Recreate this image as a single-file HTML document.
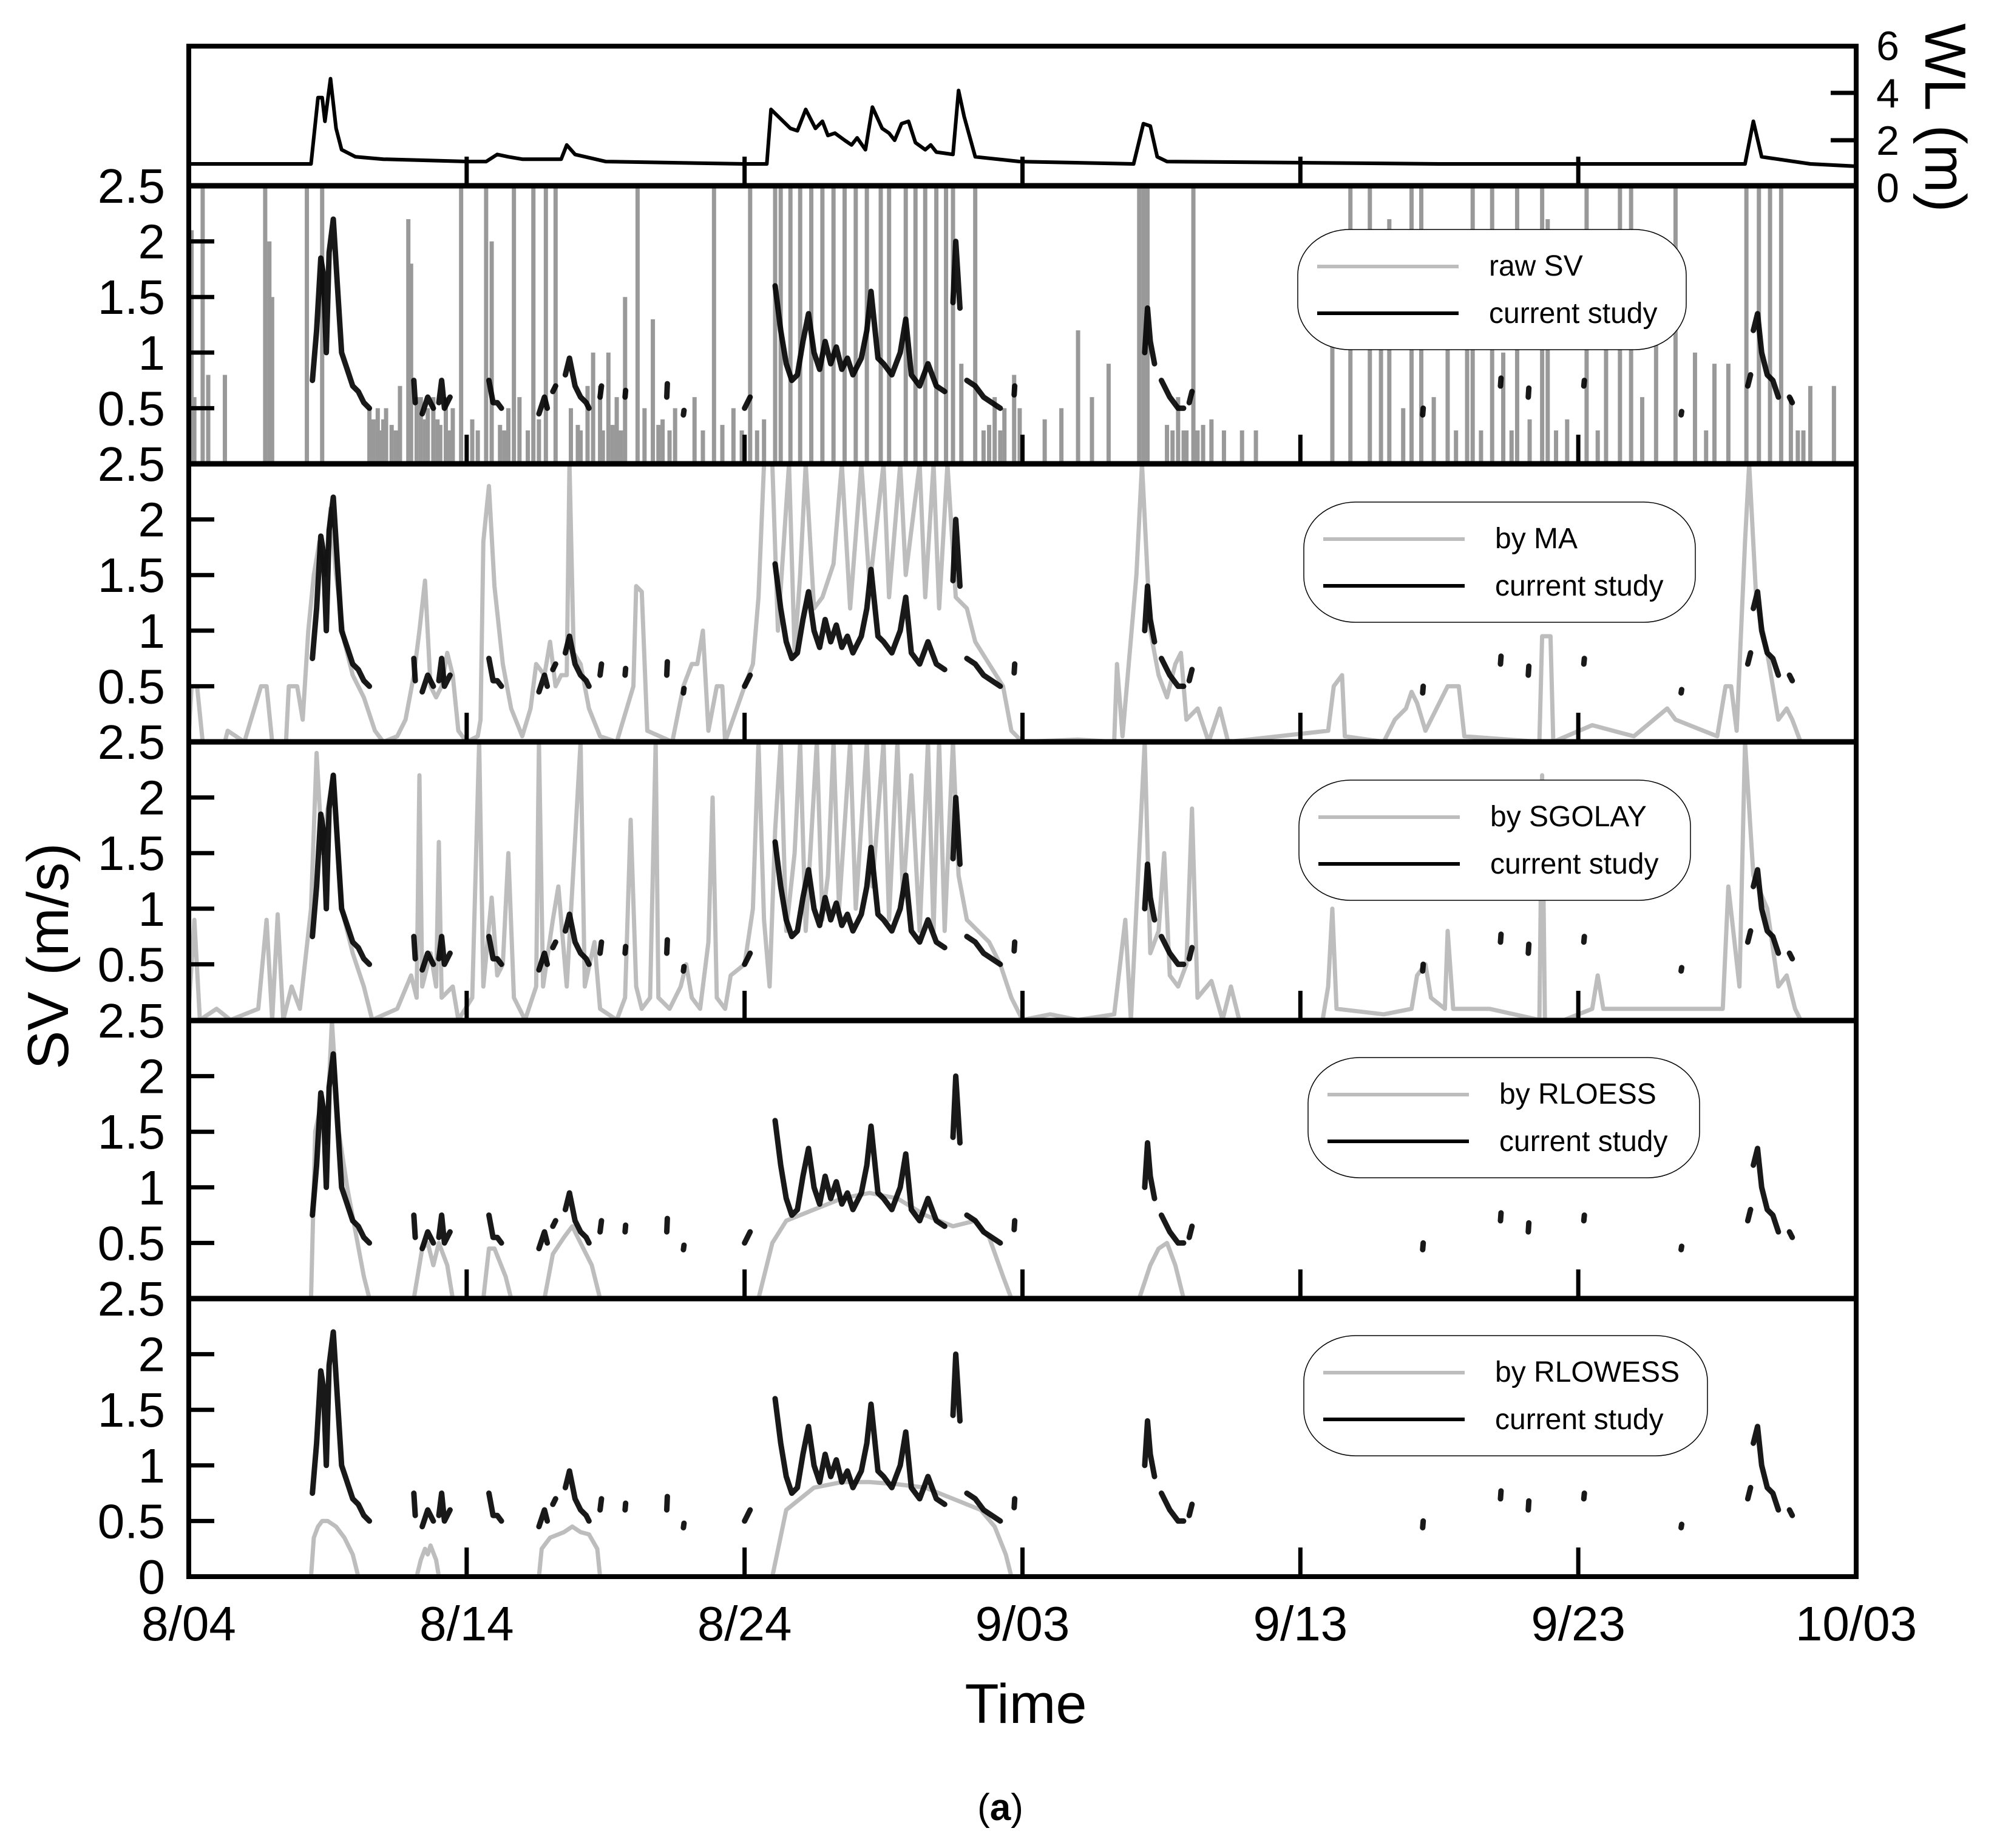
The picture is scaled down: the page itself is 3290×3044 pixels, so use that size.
<!DOCTYPE html>
<html><head><meta charset="utf-8"><style>
html,body{margin:0;padding:0;background:#fff}
svg{display:block}
text{font-family:"Liberation Sans",sans-serif;fill:#000}
</style></head><body>
<svg id="chart" width="3290" height="3044" viewBox="0 0 3290 3044" xmlns="http://www.w3.org/2000/svg">
<g id="layer"></g>
</svg>
<script>
const NS="http://www.w3.org/2000/svg";
// ---- data ----
const xTickLabels=["8/04","8/14","8/24","9/03","9/13","9/23","10/03"];
const xTickDays=[0,10,20,30,40,50,60];
const svTickValues=[0.5,1,1.5,2];
const wlTickValues=[0,2,4,6];
const panelNames=["raw SV","by MA","by SGOLAY","by RLOESS","by RLOWESS"];
const wlDays=[0,4.4,4.65,4.8,4.9,5.1,5.3,5.5,6,7,10,10.7,11.1,11.5,12,13.4,13.6,13.9,15,20,20.8,20.95,21.65,21.9,22.2,22.55,22.8,23.0,23.25,23.6,23.85,24.05,24.35,24.6,24.95,25.2,25.4,25.65,25.9,26.15,26.5,26.7,26.9,27.5,27.7,27.9,28.3,29.9,34.0,34.35,34.6,34.85,35.2,45,56.0,56.3,56.6,58.35,60];
const wlVals=[1.0,1.0,3.8,3.8,2.8,4.6,2.5,1.6,1.3,1.2,1.1,1.1,1.4,1.3,1.2,1.2,1.8,1.4,1.1,1.0,1.0,3.3,2.5,2.4,3.3,2.5,2.8,2.2,2.3,2.0,1.8,2.1,1.6,3.4,2.5,2.3,2.0,2.7,2.8,1.9,1.6,1.8,1.5,1.4,4.1,3.0,1.3,1.1,1.0,2.7,2.6,1.3,1.1,1.0,1.0,2.8,1.3,1.0,0.9];
const csDays=[4.45,4.6,4.75,4.85,4.95,5.05,5.2,5.35,5.5,5.7,5.9,6.1,6.3,6.5,NaN,8.1,8.15,NaN,8.4,8.6,8.8,NaN,9.0,9.1,9.2,9.4,NaN,10.8,10.95,11.1,11.25,NaN,12.6,12.8,12.9,NaN,13.1,13.2,NaN,13.55,13.7,13.9,14.1,14.3,14.4,NaN,14.8,14.85,NaN,15.7,15.72,NaN,17.2,17.22,NaN,17.8,17.82,NaN,20.0,20.2,NaN,21.1,21.3,21.5,21.7,21.9,22.1,22.3,22.5,22.7,22.9,23.1,23.3,23.5,23.7,23.9,24.2,24.4,24.55,24.8,25.0,25.3,25.6,25.8,26.0,26.3,26.6,26.9,27.2,NaN,27.5,27.6,27.75,NaN,28.0,28.3,28.6,28.9,29.2,NaN,29.7,29.72,NaN,34.4,34.5,34.6,34.75,NaN,35.0,35.3,35.6,35.8,NaN,36.0,36.1,NaN,44.4,44.42,NaN,47.2,47.22,NaN,48.2,48.22,NaN,50.2,50.22,NaN,53.7,53.72,NaN,56.1,56.2,NaN,56.3,56.45,56.6,56.8,57.0,57.2,NaN,57.6,57.7];
const csVals=[0.75,1.2,1.85,1.7,1.0,1.9,2.2,1.6,1.0,0.85,0.7,0.65,0.55,0.5,NaN,0.75,0.55,NaN,0.45,0.6,0.5,NaN,0.55,0.75,0.5,0.6,NaN,0.75,0.55,0.55,0.5,NaN,0.45,0.6,0.5,NaN,0.65,0.7,NaN,0.8,0.95,0.7,0.6,0.55,0.5,NaN,0.6,0.7,NaN,0.6,0.66,NaN,0.6,0.72,NaN,0.44,0.48,NaN,0.5,0.6,NaN,1.6,1.2,0.9,0.75,0.8,1.1,1.35,1.0,0.85,1.1,0.9,1.05,0.85,0.95,0.8,0.95,1.2,1.55,0.95,0.9,0.8,1.0,1.3,0.8,0.7,0.9,0.7,0.65,NaN,1.45,2.0,1.4,NaN,0.75,0.7,0.6,0.55,0.5,NaN,0.62,0.7,NaN,1.0,1.4,1.1,0.9,NaN,0.75,0.6,0.5,0.5,NaN,0.55,0.65,NaN,0.44,0.5,NaN,0.7,0.77,NaN,0.6,0.68,NaN,0.7,0.75,NaN,0.44,0.47,NaN,0.7,0.8,NaN,1.2,1.35,1.0,0.8,0.75,0.6,NaN,0.6,0.55];
const rawDays=[0.1,0.2,0.5,0.7,1.3,2.75,2.9,3.0,4.25,4.8,6.5,6.65,6.8,7.0,7.1,7.6,7.9,8.0,8.2,8.35,8.6,8.8,8.95,9.25,9.5,9.8,10.7,10.9,11.5,11.7,11.9,12.4,12.6,12.85,13.2,13.75,14.35,14.55,14.8,15.1,15.4,15.7,16.15,16.4,16.7,17.05,17.5,18.2,18.9,19.6,20.2,20.7,21.1,21.3,21.65,22.0,22.4,22.8,23.2,23.6,24.0,24.4,24.9,25.2,25.8,26.15,26.5,26.9,27.25,27.5,27.8,28.3,29.0,29.35,29.7,29.9,30.8,31.4,32.0,32.5,33.1,34.2,34.35,34.5,35.4,35.6,36.15,36.8,37.25,37.9,38.4,41.15,41.8,42.5,42.9,43.2,43.7,44.0,44.35,44.8,45.3,46.0,46.2,46.9,47.3,47.8,48.25,48.7,48.9,49.6,50.3,51.0,51.5,51.9,52.3,52.8,53.5,54.2,54.9,55.4,56.05,56.5,56.9,57.3,57.65,58.35,59.2,6.9,7.3,7.45,8.5,9.05,9.35,10.2,10.4,11.2,11.35,12.2,14.0,14.1,14.9,15.25,15.55,16.9,17.3,18.5,19.2,19.9,20.45,28.6,28.8,29.2,35.2,35.8,35.9,36.3,36.5,45.6,46.5,47.6,49.2,50.7,54.6,57.9,58.1];
const rawVals=[2.1,0.6,2.5,0.8,0.8,2.5,2.0,1.5,2.5,2.5,0.5,0.4,0.5,0.4,0.5,0.7,2.2,1.8,0.6,0.6,0.5,0.6,0.4,0.6,0.5,2.5,2.5,2.0,0.5,2.5,0.6,2.5,0.4,2.5,2.5,0.5,0.7,1.0,0.7,1.0,0.6,1.5,2.5,0.5,1.3,0.4,0.5,0.6,2.5,0.5,2.5,0.4,2.5,2.5,2.5,2.5,2.5,2.5,2.5,2.5,2.5,2.5,2.5,2.5,2.5,2.5,2.5,2.5,2.5,2.5,0.9,2.5,0.6,0.5,0.8,0.5,0.4,0.5,1.2,0.6,0.9,2.5,2.5,2.5,0.3,0.6,2.5,0.4,0.3,0.3,0.3,1.6,2.5,2.5,2.0,2.2,0.5,2.5,2.5,0.6,1.7,1.5,2.5,2.5,1.0,2.5,0.4,2.5,2.2,0.4,2.5,1.8,2.5,2.5,0.6,1.5,2.5,1.0,0.9,0.9,2.5,2.5,2.5,2.5,0.6,0.7,0.7,0.3,0.35,0.3,0.4,0.35,0.3,0.4,0.3,0.35,0.3,0.3,0.35,0.3,0.3,0.35,0.3,0.35,0.3,0.3,0.35,0.3,0.3,0.3,0.35,0.3,0.35,0.3,0.3,0.3,0.35,0.3,0.3,0.3,0.3,0.3,0.3,0.3,0.3];
const maDays=[0,0.1,0.3,0.5,1.3,1.4,2.0,2.6,2.8,3.0,3.5,3.6,3.9,4.1,4.3,4.5,4.7,4.9,5.1,5.3,5.6,5.9,6.3,6.7,7.0,7.5,7.8,8.1,8.3,8.5,8.7,8.9,9.1,9.3,9.5,9.7,10.0,10.4,10.5,10.6,10.8,11.0,11.3,11.6,12.0,12.3,12.5,12.8,13.0,13.2,13.4,13.6,13.7,13.85,14.1,14.4,14.8,15.4,16.0,16.1,16.3,16.5,17.4,17.8,18.1,18.3,18.5,18.7,19.0,19.2,19.3,20.0,20.3,20.5,20.7,21.0,21.2,21.6,21.8,22.0,22.2,22.5,22.8,23.2,23.5,23.8,24.2,24.5,25.0,25.2,25.6,25.8,26.3,26.5,26.8,27.0,27.3,27.6,28.0,28.3,28.8,29.3,29.6,30,32,33.3,33.4,33.6,34.1,34.3,34.6,34.9,35.2,35.5,35.7,35.9,36.3,36.7,37.1,37.4,41.0,41.2,41.5,41.6,43.0,43.4,43.8,44.0,44.2,44.5,45.3,45.7,45.9,48.6,48.7,49.0,49.1,50.5,52,53.2,53.5,55.0,55.3,55.5,55.7,56.0,56.15,56.4,56.8,57.2,57.5,57.7,58,60];
const maVals=[0.05,0.5,0.5,0,0,0.1,0,0.5,0.5,0,0,0.5,0.5,0.2,1.0,1.5,1.8,1.5,2.1,1.5,0.9,0.6,0.4,0.1,0,0.05,0.2,0.6,1.0,1.45,0.5,0.4,0.5,0.8,0.6,0.1,0,0.05,0.2,1.8,2.3,1.4,0.7,0.3,0.05,0.3,0.7,0.6,0.9,0.5,0.6,0.6,2.5,0.8,0.7,0.3,0.05,0,0.5,1.4,1.35,0.1,0,0.5,0.7,0.7,1.0,0.1,0.5,0.5,0,0.5,0.7,1.3,2.5,2.5,1.0,2.5,0.8,1.5,2.5,1.2,1.3,1.6,2.5,1.2,2.5,1.4,2.5,1.3,2.5,1.5,2.5,1.3,2.5,1.2,2.5,1.3,1.2,0.9,0.7,0.5,0.1,0,0.02,0,0.7,0.05,1.5,2.5,1.0,0.6,0.4,0.7,0.8,0.2,0.3,0,0.3,0,0.1,0.5,0.6,0.05,0,0.2,0.3,0.45,0.35,0.1,0.5,0.5,0.05,0,0.95,0.95,0,0.15,0.05,0.3,0.2,0.05,0.5,0.5,0.1,1.8,2.5,1.3,0.8,0.2,0.3,0.2,0,0];
const sgDays=[0,0.2,0.4,1.0,1.5,2.5,2.8,3.0,3.2,3.4,3.7,4.0,4.4,4.6,4.8,5.0,5.2,5.5,5.9,6.3,6.6,7.5,8.0,8.2,8.3,8.4,8.7,8.9,9.0,9.1,9.5,9.7,10.2,10.45,10.6,10.9,11.1,11.3,11.5,11.7,12.1,12.5,12.6,12.75,13.1,13.3,13.6,14.1,14.25,14.6,14.8,15.4,15.7,15.9,16.1,16.3,16.6,16.8,16.9,17.3,17.7,17.9,18.1,18.4,18.7,18.85,19.0,19.3,19.5,20.0,20.3,20.5,20.7,20.9,21.1,21.3,21.5,21.8,22.0,22.2,22.6,22.8,23.0,23.2,23.4,23.8,24.0,24.4,24.6,25.0,25.2,25.5,25.7,26.0,26.3,26.6,26.8,27.0,27.2,27.5,27.7,28.0,28.4,28.8,29.2,29.6,30,31,32,33.3,33.7,33.9,34.2,34.4,34.6,34.9,35.1,35.3,35.6,35.9,36.1,36.3,36.8,37.2,37.5,37.8,40.8,41.0,41.15,41.3,43,44.0,44.2,44.5,44.7,45.2,45.3,45.5,46.8,48.6,48.7,48.8,49.5,50.5,50.7,50.9,52,53.2,55.2,55.4,55.8,56.0,56.3,56.8,57.2,57.5,57.8,58,60];
const sgVals=[0.1,0.9,0,0.1,0,0.1,0.9,0,0.95,0,0.3,0.1,1.0,2.4,1.5,1.9,2.2,1.0,0.6,0.3,0,0.1,0.4,0.2,2.2,0.3,0.6,0.3,1.6,0.2,0.3,0,0.2,2.5,0.3,1.1,0.4,0.5,1.5,0.2,0,0.3,2.5,0.3,0.9,1.2,0.3,2.5,0.3,0.7,0.1,0,0.2,1.8,0.3,0.1,0.2,2.5,0.2,0.1,0.3,0.5,0.2,0.1,0.7,2.0,0.2,0.1,0.4,0.5,1.0,2.5,0.9,0.3,1.7,2.5,0.8,1.5,2.5,0.8,2.5,0.9,1.3,2.5,1.0,2.5,1.0,2.5,1.2,2.5,0.9,2.5,1.1,2.2,0.8,2.5,0.8,2.5,0.8,2.5,1.3,0.9,0.8,0.7,0.5,0.2,0,0.05,0,0.05,0.9,0,1.5,2.5,0.6,0.8,1.5,0.4,0.3,0.5,1.9,0.2,0.35,0,0.3,0,0,0.3,1.0,0.1,0.05,0.1,0.4,0.5,0.2,0.1,0.8,0.1,0.1,0,2.2,0,0,0.1,0.4,0.1,0.1,0.1,0.1,1.2,0.3,2.5,1.3,1.0,0.3,0.4,0.1,0,0];
const rloessDays=[4.4,4.55,4.8,4.95,5.15,5.4,5.7,6.0,6.3,6.5,NaN,8.1,8.4,8.6,8.8,9.0,9.3,9.5,NaN,10.6,10.8,11.0,11.4,11.6,NaN,12.8,13.1,13.5,13.8,14.1,14.5,14.8,NaN,20.5,21.0,21.5,22.5,23.5,24.5,25.5,26.5,27.5,28.3,28.8,29.3,29.6,NaN,34.2,34.6,34.9,35.2,35.5,35.8];
const rloessVals=[0,1.5,1.8,1.4,2.5,1.5,1.0,0.6,0.2,0,NaN,0,0.45,0.5,0.3,0.5,0.3,0,NaN,0,0.45,0.45,0.2,0,NaN,0,0.4,0.55,0.65,0.5,0.3,0,NaN,0,0.5,0.7,0.8,0.9,0.95,0.9,0.75,0.65,0.7,0.55,0.2,0,NaN,0,0.3,0.45,0.5,0.3,0];
const rlowessDays=[4.4,4.5,4.65,4.8,5.0,5.3,5.6,5.9,6.1,NaN,8.2,8.35,8.5,8.6,8.7,8.9,9.0,NaN,12.6,12.7,13.0,13.5,13.8,14.1,14.4,14.7,14.8,NaN,21.0,21.5,22.5,23.5,24.5,25.5,26.5,27.5,28.5,29.0,29.4,29.6];
const rlowessVals=[0,0.35,0.45,0.5,0.5,0.45,0.35,0.2,0,NaN,0,0.15,0.25,0.2,0.28,0.15,0,NaN,0,0.25,0.35,0.4,0.45,0.4,0.38,0.25,0,NaN,0,0.6,0.8,0.85,0.85,0.83,0.8,0.7,0.6,0.45,0.2,0];

// ---- geometry ----
const X0=311,X1=3058,DAYS=60;
const panelTops=[306,764,1222,1681,2139],PH=458;
const WLTOP=76,WLBOT=306;
const x=d=>X0+(d/DAYS)*(X1-X0);
const ySV=(p,v)=>panelTops[p]+PH-(v/2.5)*PH;
const yWL=v=>309-v*39;
const layer=document.getElementById('layer');
function mk(tag,attrs,parent){const e=document.createElementNS(NS,tag);for(const k in attrs)e.setAttribute(k,attrs[k]);(parent||layer).appendChild(e);return e;}
function pathD(days,vals,yf){let d="",pen=false;for(let i=0;i<days.length;i++){if(isNaN(days[i])||isNaN(vals[i])){pen=false;continue;}d+=(pen?"L":"M")+x(days[i]).toFixed(1)+" "+yf(vals[i]).toFixed(1);pen=true;}return d;}

const defs=mk('defs',{});
panelTops.forEach((t,i)=>{const c=mk('clipPath',{id:'clip'+i},defs);mk('rect',{x:X0,y:t,width:X1-X0,height:PH},c);});
const cw=mk('clipPath',{id:'clipwl'},defs);mk('rect',{x:X0,y:WLTOP,width:X1-X0,height:WLBOT-WLTOP},cw);

// WL panel
const wlG=mk('g',{'clip-path':'url(#clipwl)'});


const wlLine=mk('path',{d:pathD(wlDays,wlVals,yWL),fill:'none',stroke:'#000','stroke-width':6,'stroke-linejoin':'round'},wlG);



const greySeries=[null,[maDays,maVals],[sgDays,sgVals],[rloessDays,rloessVals],[rlowessDays,rlowessVals]];
panelTops.forEach((t,p)=>{
  const g=mk('g',{'clip-path':'url(#clip'+p+')'});
  
  
  if(p===0){
    for(let i=0;i<rawDays.length;i++){
      const s=mk('line',{x1:x(rawDays[i]),x2:x(rawDays[i]),y1:ySV(0,0),y2:ySV(0,rawVals[i])-(rawVals[i]>=2.5?20:0),stroke:'#999','stroke-width':7},g);
      
      
    }
  } else {
    const gs=greySeries[p];
    const gl=mk('path',{d:pathD(gs[0],gs[1],v=>ySV(p,v)),fill:'none',stroke:'#bdbdbd','stroke-width':7,'stroke-linejoin':'round'},g);
    
    
  }
  const cl=mk('path',{d:pathD(csDays,csVals,v=>ySV(p,v)),fill:'none',stroke:'#000','stroke-width':9,'stroke-linejoin':'round','stroke-linecap':'round','stroke-opacity':0.9},g);
  
  
});

// frames and ticks
const fr=mk('rect',{x:X0,y:WLTOP,width:X1-X0,height:2597-WLTOP,fill:'none',stroke:'#000','stroke-width':8});


panelTops.forEach((t,p)=>{
  const l=mk('line',{x1:X0,x2:X1,y1:t,y2:t,stroke:'#000','stroke-width':9});
  
  
  svTickValues.forEach(v=>{
    const tk=mk('line',{x1:X0,x2:X0+42,y1:ySV(p,v),y2:ySV(p,v),stroke:'#000','stroke-width':7});
    
    
    const tl=mk('text',{x:272,y:ySV(p,v)+28,'font-size':80,'text-anchor':'end'});
    tl.textContent=String(v);
    
    
  });
  const top=mk('text',{x:272,y:t+28,'font-size':80,'text-anchor':'end'});
  top.textContent="2.5";
  
  
  xTickDays.slice(1,-1).forEach(d=>{
    const xt=mk('line',{x1:x(d),x2:x(d),y1:t+PH,y2:t+PH-48,stroke:'#000','stroke-width':7});
    
    
  });
});
xTickDays.slice(1,-1).forEach(d=>{
  const xt=mk('line',{x1:x(d),x2:x(d),y1:WLBOT,y2:WLBOT-48,stroke:'#000','stroke-width':7});
  
  
});
const zero=mk('text',{x:272,y:2597+28,'font-size':80,'text-anchor':'end'});
zero.textContent="0";


wlTickValues.forEach(v=>{
  if(v===2||v===4){
    const tk=mk('line',{x1:X1,x2:X1-42,y1:yWL(v),y2:yWL(v),stroke:'#000','stroke-width':7});
    
    
  }
  const tl=mk('text',{x:3110,y:yWL(v)+24,'font-size':68,'text-anchor':'middle'});
  tl.textContent=String(v);
  
  
});
xTickDays.forEach((d,i)=>{
  const tl=mk('text',{x:x(d),y:2702,'font-size':80,'text-anchor':'middle'});
  tl.textContent=xTickLabels[i];
  
  
});
const xt=mk('text',{x:1690,y:2838,'font-size':92,'text-anchor':'middle'});xt.textContent="Time";


const yt=mk('text',{x:0,y:0,'font-size':96,'text-anchor':'middle',transform:'translate(112,1575) rotate(-90)'});yt.textContent="SV (m/s)";


const wt=mk('text',{x:0,y:0,'font-size':96,'text-anchor':'middle',transform:'translate(3172,194) rotate(90)'});wt.textContent="WL (m)";


const cap=mk('text',{x:1648,y:2998,'font-size':62,'text-anchor':'middle','font-family':'Liberation Serif, serif'});cap.innerHTML='(<tspan font-weight="bold">a</tspan>)';



// legends
const legLeft=[2138,2148,2140,2155,2148],legW=[640,645,645,645,665],legOff=[72,63,63,61,61];
panelTops.forEach((t,p)=>{
  const g=mk('g',{});
  
  
  const L=legLeft[p],T=t+legOff[p];
  mk('rect',{x:L,y:T,width:legW[p],height:198,rx:85,ry:75,fill:'#fff',stroke:'#000','stroke-width':1.5},g);
  const e1=mk('line',{x1:L+32,x2:L+265,y1:T+61,y2:T+61,stroke:'#bdbdbd','stroke-width':6},g);
  
  
  const e2=mk('line',{x1:L+32,x2:L+265,y1:T+138,y2:T+138,stroke:'#000','stroke-width':6},g);
  
  
  const t1=mk('text',{x:L+315,y:T+76,'font-size':48},g);t1.textContent=panelNames[p];
  
  
  const t2=mk('text',{x:L+315,y:T+154,'font-size':48},g);t2.textContent="current study";
  
  
});
</script>
</body></html>
